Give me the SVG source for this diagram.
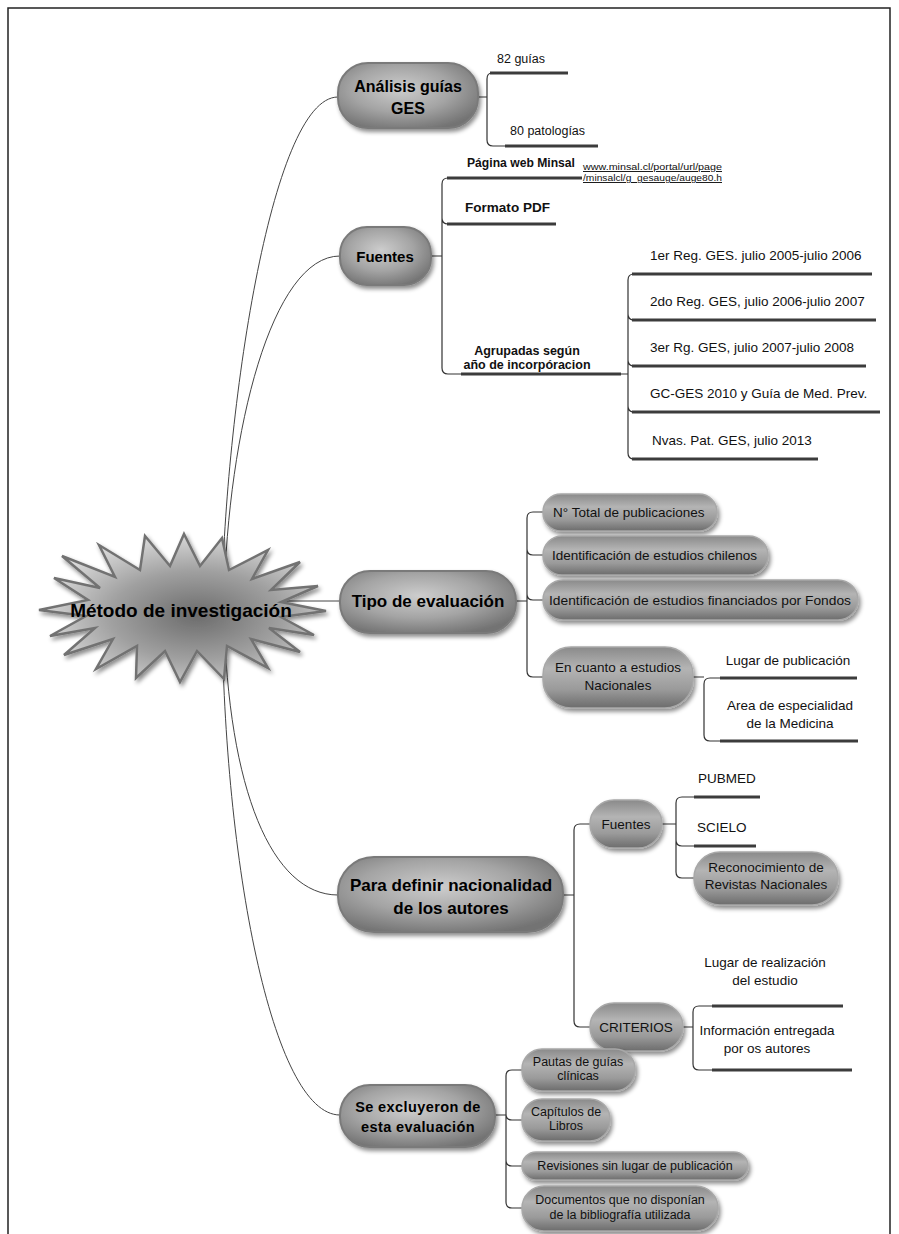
<svg xmlns="http://www.w3.org/2000/svg" width="899" height="1234" viewBox="0 0 899 1234">
<style>
.t{font-family:"Liberation Sans",Arial,sans-serif;font-size:13.5px;fill:#111}
.s{font-size:12.5px}
.c{text-anchor:middle}
.b{font-weight:bold}
.h{font-family:"Liberation Sans",Arial,sans-serif;font-weight:bold;font-size:16px;fill:#000;text-anchor:middle}
.ln{fill:none;stroke:#333;stroke-width:1.2}
.cv{fill:none;stroke:#444;stroke-width:1}
.ul{stroke:#3c3c3c;stroke-width:3}
.pm{fill:url(#gM);stroke:#7a7a7a;stroke-width:2;filter:url(#sh)}
.ps{fill:url(#gS);stroke:#a8a8a8;stroke-width:1.5;filter:url(#sh)}
.lk{font-family:"Liberation Sans",Arial,sans-serif;font-size:9.5px;fill:#111;text-decoration:underline}
</style>
<defs>
<radialGradient id="gM" cx="0.45" cy="0.4" r="0.65">
<stop offset="0" stop-color="#cdcdcd"/>
<stop offset="0.55" stop-color="#a4a4a4"/>
<stop offset="1" stop-color="#737373"/>
</radialGradient>
<linearGradient id="gS" x1="0" y1="0" x2="0" y2="1">
<stop offset="0" stop-color="#8a8a8a"/>
<stop offset="0.35" stop-color="#b4b4b4"/>
<stop offset="0.7" stop-color="#9a9a9a"/>
<stop offset="1" stop-color="#6c6c6c"/>
</linearGradient>
<radialGradient id="gStar" cx="0.55" cy="0.55" r="0.6">
<stop offset="0" stop-color="#6c6c6c"/>
<stop offset="0.5" stop-color="#a0a0a0"/>
<stop offset="1" stop-color="#e4e4e4"/>
</radialGradient>
<filter id="sh" x="-10%" y="-10%" width="130%" height="160%">
<feDropShadow dx="2" dy="3" stdDeviation="2" flood-color="#000" flood-opacity="0.45"/>
</filter>
</defs>
<rect x="8" y="8" width="882" height="1240" fill="none" stroke="#222" stroke-width="1.5"/>

<g id="connectors">
<path class="cv" d="M222,600 C225,420 270,97 338,97"/>
<path class="cv" d="M224,600 C228,430 272,256 340,256"/>
<path class="cv" d="M250,601 L340,601"/>
<path class="cv" d="M224,615 C228,790 272,895 338,895"/>
<path class="cv" d="M222,615 C224,860 272,1115 340,1115"/>
<path class="ln" d="M478,97 H487 M495,73 H492 Q487,73 487,79 V140 Q487,146 493,146 H505"/>
<path class="ln" d="M431,256 H442 M452,178 H448 Q442,178 442,184 V368 Q442,374 448,374 H461 M442,218 Q442,224 448,224 H452"/>
<path class="ln" d="M621,374 H628 M638,274 H634 Q628,274 628,280 V453 Q628,459 634,459 H638 M628,314 Q628,320 634,320 H638 M628,360 Q628,366 634,366 H638 M628,406 Q628,412 634,412 H638"/>
<path class="ln" d="M516,601 H527 M543,512 H533 Q527,512 527,518 V671 Q527,677 533,677 H543 M527,549 Q527,555 533,555 H543 M527,594 Q527,600 533,600 H543"/>
<path class="ln" d="M693,677 H704 M720,678 H710 Q704,678 704,684 V735 Q704,741 710,741 H720"/>
<path class="ln" d="M563,895 H574 M590,824 H580 Q574,824 574,830 V1021 Q574,1027 580,1027 H590"/>
<path class="ln" d="M662,824 H676 M694,797 H682 Q676,797 676,803 V872 Q676,878 682,878 H694 M676,840 Q676,846 682,846 H694"/>
<path class="ln" d="M683,1027 H693 M712,1006 H699 Q693,1006 693,1012 V1064 Q693,1070 699,1070 H712"/>
<path class="ln" d="M495,1115 H506 M522,1070 H512 Q506,1070 506,1076 V1202 Q506,1208 512,1208 H522 M506,1114 Q506,1120 512,1120 H522 M506,1160 Q506,1166 512,1166 H522"/>
</g>

<g id="metodo">
<polygon points="39,610 88,600 54,578 100,588 62,556 115,577 99,545 140,570 145,536 170,566 184,534 200,566 222,538 229,570 268,550 252,579 300,562 271,590 318,586 281,602 326,611 281,617 314,635 269,628 300,652 251,639 268,668 227,646 224,679 197,651 180,682 165,651 136,678 137,646 96,669 113,639 64,655 95,628 50,636 86,616" fill="url(#gStar)" stroke="#727272" stroke-width="2.5" stroke-linejoin="miter" filter="url(#sh)"/>
<text class="h" x="181" y="617" style="font-size:19px">Método de investigación</text>
</g>

<g id="analisis">
<rect class="pm" x="338" y="63" width="140" height="65" rx="30"/>
<text class="h" x="408" y="92">Análisis guías</text>
<text class="h" x="408" y="114">GES</text>
</g>
<g id="a1"><text class="t s" x="497" y="63">82 guías</text><line class="ul" x1="490" y1="73" x2="568" y2="73"/></g>
<g id="a2"><text class="t s" x="510" y="135">80 patologías</text><line class="ul" x1="505" y1="146" x2="598" y2="146"/></g>

<g id="fuentes">
<rect class="pm" x="340" y="227" width="91" height="58" rx="27"/>
<text class="h" x="385" y="262" style="font-size:15px">Fuentes</text>
</g>
<g id="f1">
<text class="t b" x="467" y="167" textLength="108" lengthAdjust="spacingAndGlyphs">Página web Minsal</text>
<text class="lk" x="583" y="170" textLength="139" lengthAdjust="spacingAndGlyphs">www.minsal.cl/portal/url/page</text>
<text class="lk" x="583" y="181" textLength="139" lengthAdjust="spacingAndGlyphs">/minsalcl/g_gesauge/auge80.h</text>
<line class="ul" x1="447" y1="178" x2="582" y2="178"/>
</g>
<g id="f2"><text class="t b" x="465" y="212" textLength="85" lengthAdjust="spacingAndGlyphs">Formato PDF</text><line class="ul" x1="447" y1="224" x2="556" y2="224"/></g>
<g id="f3">
<text class="t b c" x="527" y="355" style="font-size:12.5px">Agrupadas según</text>
<text class="t b c" x="527" y="369" style="font-size:12.5px">año de incorpóracion</text>
<line class="ul" x1="461" y1="374" x2="621" y2="374"/>
</g>
<g id="f31"><text class="t" x="650" y="260">1er Reg. GES. julio 2005-julio 2006</text><line class="ul" x1="632" y1="274" x2="872" y2="274"/></g>
<g id="f32"><text class="t" x="650" y="306">2do Reg. GES, julio 2006-julio 2007</text><line class="ul" x1="632" y1="320" x2="876" y2="320"/></g>
<g id="f33"><text class="t" x="650" y="352">3er Rg. GES, julio 2007-julio 2008</text><line class="ul" x1="632" y1="366" x2="866" y2="366"/></g>
<g id="f34"><text class="t" x="650" y="398">GC-GES 2010 y Guía de Med. Prev.</text><line class="ul" x1="632" y1="412" x2="880" y2="412"/></g>
<g id="f35"><text class="t" x="652" y="445">Nvas. Pat. GES, julio 2013</text><line class="ul" x1="632" y1="459" x2="818" y2="459"/></g>

<g id="tipo">
<rect class="pm" x="340" y="571" width="176" height="62" rx="30"/>
<text class="h" x="428" y="607" style="font-size:17px">Tipo de evaluación</text>
</g>
<g id="t1"><rect class="ps" x="543" y="494" width="174" height="37" rx="18"/><text class="t" x="553" y="517">N° Total de publicaciones</text></g>
<g id="t2"><rect class="ps" x="543" y="536" width="225" height="39" rx="19"/><text class="t" x="552" y="560" textLength="205" lengthAdjust="spacingAndGlyphs">Identificación de estudios chilenos</text></g>
<g id="t3"><rect class="ps" x="543" y="580" width="315" height="40" rx="20"/><text class="t" x="549" y="605" textLength="302" lengthAdjust="spacingAndGlyphs">Identificación de estudios financiados por Fondos</text></g>
<g id="t4"><rect class="ps" x="543" y="647" width="150" height="61" rx="28"/><text class="t c" x="618" y="672">En cuanto a estudios</text><text class="t c" x="618" y="690">Nacionales</text></g>
<g id="t41"><text class="t c" x="788" y="665">Lugar de publicación</text><line class="ul" x1="720" y1="678" x2="857" y2="678"/></g>
<g id="t42"><text class="t c" x="790" y="710">Area de especialidad</text><text class="t c" x="790" y="728">de la Medicina</text><line class="ul" x1="720" y1="741" x2="858" y2="741"/></g>

<g id="para">
<rect class="pm" x="338" y="857" width="225" height="75" rx="36"/>
<text class="h" x="451" y="891" style="font-size:17px">Para definir nacionalidad</text>
<text class="h" x="451" y="914" style="font-size:17px">de los autores</text>
</g>
<g id="p1"><rect class="ps" x="590" y="800" width="72" height="48" rx="24"/><text class="t c" x="626" y="829">Fuentes</text></g>
<g id="p11"><text class="t" x="698" y="783">PUBMED</text><line class="ul" x1="694" y1="797" x2="760" y2="797"/></g>
<g id="p12"><text class="t" x="697" y="832">SCIELO</text><line class="ul" x1="694" y1="846" x2="756" y2="846"/></g>
<g id="p13"><rect class="ps" x="694" y="852" width="144" height="53" rx="26"/><text class="t c" x="766" y="872">Reconocimiento de</text><text class="t c" x="766" y="889">Revistas Nacionales</text></g>
<g id="p2"><rect class="ps" x="590" y="1003" width="93" height="48" rx="24"/><text class="t c" x="636" y="1032">CRITERIOS</text></g>
<g id="p21"><text class="t c" x="765" y="967">Lugar de realización</text><text class="t c" x="765" y="985">del estudio</text><line class="ul" x1="712" y1="1006" x2="843" y2="1006"/></g>
<g id="p22"><text class="t c" x="767" y="1035">Información entregada</text><text class="t c" x="767" y="1053">por os autores</text><line class="ul" x1="712" y1="1070" x2="852" y2="1070"/></g>

<g id="excl">
<rect class="pm" x="340" y="1085" width="155" height="62" rx="30"/>
<text class="h" x="418" y="1112" style="font-size:14.5px;letter-spacing:0.4px">Se excluyeron de</text>
<text class="h" x="418" y="1132" style="font-size:14.5px;letter-spacing:0.4px">esta evaluación</text>
</g>
<g id="e1"><rect class="ps" x="522" y="1049" width="113" height="42" rx="20"/><text class="t c s" x="578" y="1066">Pautas de guías</text><text class="t c s" x="578" y="1080">clínicas</text></g>
<g id="e2"><rect class="ps" x="522" y="1099" width="88" height="42" rx="20"/><text class="t c s" x="566" y="1116">Capítulos de</text><text class="t c s" x="566" y="1130">Libros</text></g>
<g id="e3"><rect class="ps" x="522" y="1152" width="226" height="28" rx="14"/><text class="t c s" x="635" y="1170">Revisiones sin lugar de publicación</text></g>
<g id="e4"><rect class="ps" x="522" y="1186" width="196" height="45" rx="22"/><text class="t c s" x="620" y="1204">Documentos que no disponían</text><text class="t c s" x="620" y="1219">de la bibliografía utilizada</text></g>
</svg>
